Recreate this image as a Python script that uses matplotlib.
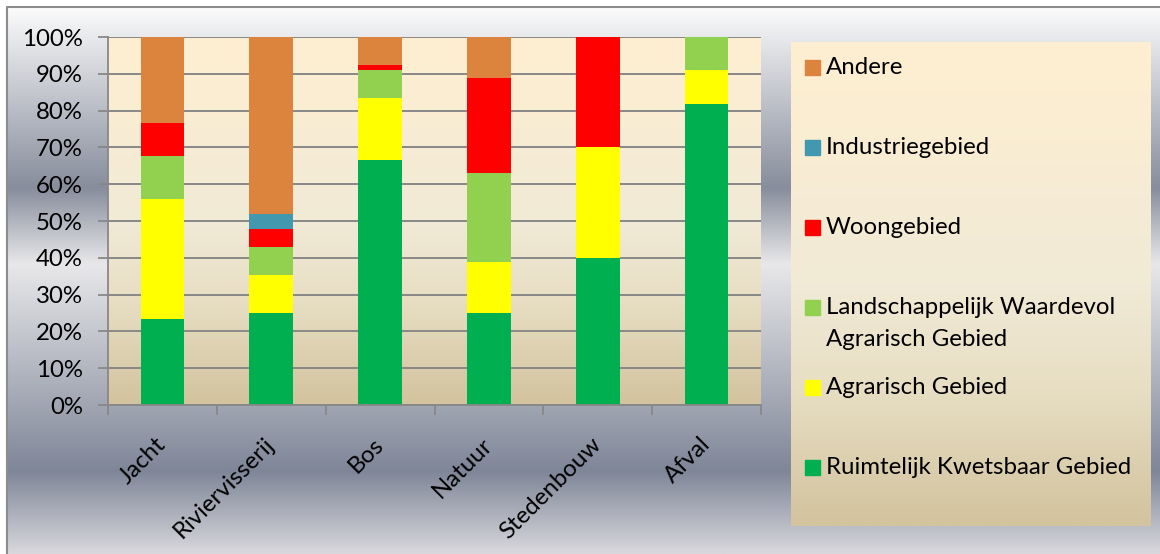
import numpy as np
import matplotlib
matplotlib.use("Agg")
from matplotlib import pyplot as plt
from matplotlib.colors import LinearSegmentedColormap
from matplotlib.patches import Rectangle

plt.rcParams['font.family'] = ['Lato', 'DejaVu Sans']

categories = ['Jacht', 'Riviervisserij', 'Bos', 'Natuur', 'Stedenbouw', 'Afval']

# shares per category, bottom to top of the stack (percent)
ruimtelijk = [23.5, 25.0, 66.7, 25.0, 40.0, 81.8]
agrarisch = [32.4, 10.4, 16.6, 13.9, 30.0, 9.1]
landschap = [11.8, 7.6, 7.6, 24.1, 0.0, 9.1]
woongebied = [8.8, 4.8, 1.4, 25.9, 30.0, 0.0]
industrie = [0.0, 4.0, 0.0, 0.0, 0.0, 0.0]
andere = [23.5, 48.2, 7.7, 11.1, 0.0, 0.0]

series_names = ['Ruimtelijk Kwetsbaar Gebied', 'Agrarisch Gebied',
                'Landschappelijk Waardevol\nAgrarisch Gebied', 'Woongebied',
                'Industriegebied', 'Andere']
series_values = [ruimtelijk, agrarisch, landschap, woongebied, industrie, andere]
series_colors = ['#00B050', '#FFFF00', '#92D050', '#FF0000', '#4198AF', '#DC843E']

FS = 17.3
W, H = 1160, 554
fig = plt.figure(figsize=(W / 100, H / 100), dpi=100)
fig.patch.set_facecolor('white')

# chart area background: silver gradient
bg_cmap = LinearSegmentedColormap.from_list('bg', [
    (0.0, '#fbfbfb'), (0.33, '#878d9c'), (0.47, '#e8e8ea'),
    (0.85, '#7f8698'), (1.0, '#d8d8dc')])
bg = fig.add_axes([0, 0, 1, 1], zorder=-10)
bg.set_axis_off()
grad = np.linspace(0, 1, 256).reshape(-1, 1)
bg.imshow(grad, cmap=bg_cmap, extent=[7, W, H, 7], aspect='auto')
bg.plot([7, 7, W], [H, 7, 7], color='#8c8c8c', lw=1.5)
bg.set_xlim(0, W)
bg.set_ylim(H, 0)

area_cmap = LinearSegmentedColormap.from_list('area', [
    (0.0, '#FFEFD1'), (0.5, '#F1EAD6'), (0.72, '#E7DEC3'), (1.0, '#D3C39E')])

# plot area
ax = fig.add_axes([108 / W, 1 - 405 / H, 653 / W, 368 / H])
x = np.arange(len(categories))
ax.imshow(grad, cmap=area_cmap, extent=[-0.5, len(categories) - 0.5, 0, 100],
          aspect='auto', zorder=0)
bottom = np.zeros(len(categories))
for vals, col in zip(series_values, series_colors):
    ax.bar(x, vals, bottom=bottom, width=0.4, color=col, zorder=2)
    bottom += np.array(vals)

ax.set_xlim(-0.5, len(categories) - 0.5)
ax.set_ylim(0, 100)
ax.set_yticks(np.arange(0, 101, 10))
ax.set_yticklabels([f'{v}%' for v in range(0, 101, 10)])
ax.yaxis.grid(True, color='#888888', lw=1.4, zorder=1)
ax.set_axisbelow(True)
ax.set_xticks(np.arange(-0.5, len(categories), 1.0))
ax.set_xticklabels([])
ax.set_xticks(x, minor=True)
ax.set_xticklabels(categories, minor=True, rotation=45, ha='right', va='center',
                   rotation_mode='anchor', fontsize=FS)
ax.tick_params(axis='x', which='minor', length=0, pad=26)
ax.tick_params(axis='x', which='major', length=7, color='#888888', width=1.3)
ax.tick_params(axis='y', length=7, color='#888888', width=1.3, labelsize=FS, pad=11)
for s in ['top', 'right']:
    ax.spines[s].set_visible(False)
for s in ['left', 'bottom']:
    ax.spines[s].set_color('#888888')
    ax.spines[s].set_linewidth(1.3)

# legend box
lg = fig.add_axes([791 / W, 1 - 526 / H, 359 / W, 484 / H], zorder=-5)
lg.set_axis_off()
lg.imshow(grad, cmap=area_cmap, extent=[791, 1150, 526, 42], aspect='auto')
lg.set_xlim(791, 1150)
lg.set_ylim(526, 42)
ypos = 67
for name, col in reversed(list(zip(series_names, series_colors))):
    lg.add_patch(Rectangle((805, ypos - 7.5), 15, 15, color=col))
    for i, line in enumerate(name.split('\n')):
        lg.text(826, ypos + i * 32, line, fontsize=FS, va='center', ha='left')
    ypos += 80

fig.savefig('out.png', dpi=100)
